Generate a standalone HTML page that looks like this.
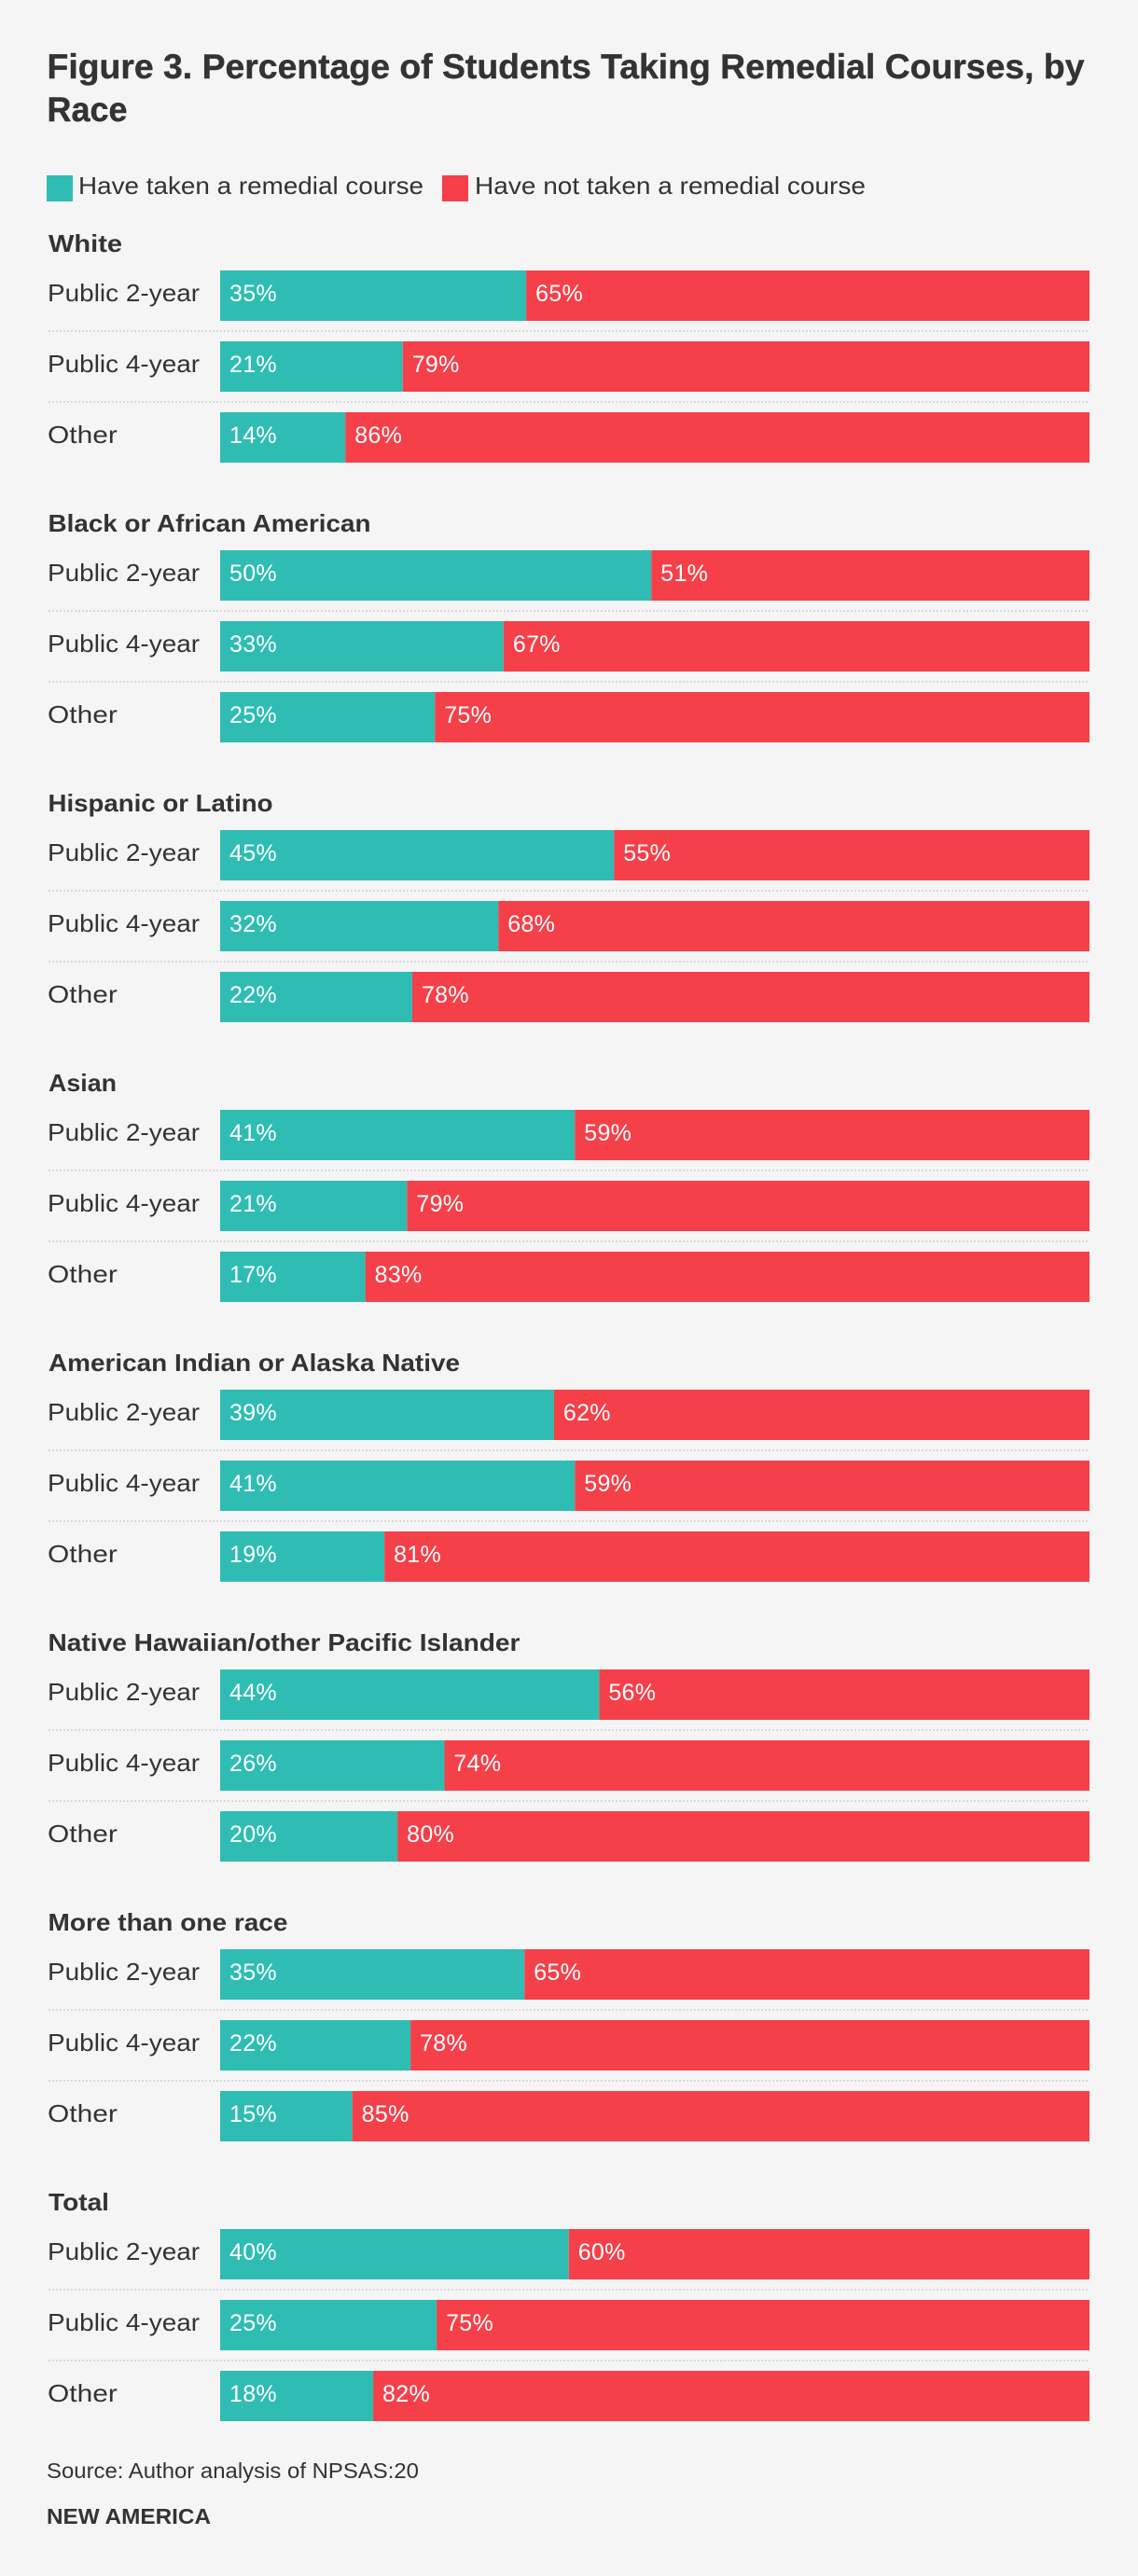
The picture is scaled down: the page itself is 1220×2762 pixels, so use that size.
<!DOCTYPE html>
<html lang="en">
<head>
<meta charset="utf-8">
<title>Figure 3. Percentage of Students Taking Remedial Courses, by Race</title>
<style>
html,body{margin:0;padding:0;background:#f5f5f5;}
body{width:1220px;height:2762px;overflow:hidden;}
svg{display:block;font-family:"Liberation Sans",sans-serif;}
.title{font-size:37px;font-weight:700;fill:#333;stroke:#333;stroke-width:.4px;}
.legend{font-size:26px;fill:#333;}
.group{font-size:26px;font-weight:700;fill:#333;}
.row{font-size:26px;fill:#333;}
.pct{font-size:25px;fill:#fff;letter-spacing:.3px;}
.src{font-size:23.5px;fill:#333;}
.org{font-size:23px;font-weight:700;fill:#333;}
</style>
</head>
<body>
<svg id="chart" xmlns="http://www.w3.org/2000/svg" width="1220" height="2762" viewBox="0 0 1220 2762">
  <rect x="0" y="0" width="1220" height="2762" fill="#f5f5f5"/>
  <text class="title" x="50.5" y="84" textLength="1112" lengthAdjust="spacingAndGlyphs">Figure 3. Percentage of Students Taking Remedial Courses, by</text>
  <text class="title" x="50.5" y="130" textLength="86" lengthAdjust="spacingAndGlyphs">Race</text>

  <rect x="50" y="188" width="28" height="28" fill="#2fbdb3"/>
  <text class="legend" x="84" y="208" textLength="370" lengthAdjust="spacingAndGlyphs">Have taken a remedial course</text>
  <rect x="474" y="188" width="28" height="28" fill="#f5404a"/>
  <text class="legend" x="509" y="208" textLength="419" lengthAdjust="spacingAndGlyphs">Have not taken a remedial course</text>

  <text class="group" x="52" y="270" textLength="79" lengthAdjust="spacingAndGlyphs">White</text>
  <text class="group" x="51.5" y="570" textLength="346" lengthAdjust="spacingAndGlyphs">Black or African American</text>
  <text class="group" x="51.5" y="870" textLength="241" lengthAdjust="spacingAndGlyphs">Hispanic or Latino</text>
  <text class="group" x="52" y="1170" textLength="73" lengthAdjust="spacingAndGlyphs">Asian</text>
  <text class="group" x="52" y="1470" textLength="441" lengthAdjust="spacingAndGlyphs">American Indian or Alaska Native</text>
  <text class="group" x="51.5" y="1770" textLength="506" lengthAdjust="spacingAndGlyphs">Native Hawaiian/other Pacific Islander</text>
  <text class="group" x="51.5" y="2070" textLength="257" lengthAdjust="spacingAndGlyphs">More than one race</text>
  <text class="group" x="52" y="2370" textLength="65" lengthAdjust="spacingAndGlyphs">Total</text>

  <g id="bars"></g>

  <text class="src" x="50" y="2657" textLength="399" lengthAdjust="spacingAndGlyphs">Source: Author analysis of NPSAS:20</text>
  <text class="org" x="50" y="2706" textLength="176" lengthAdjust="spacingAndGlyphs">NEW AMERICA</text>
</svg>
<script>
var rowLabels = ["Public 2-year", "Public 4-year", "Other"];
var groupKeys = ["white", "black", "hispanic", "asian", "american-indian", "native-hawaiian", "multiracial", "total"];
var takenShare = [
  [35.2, 21.0, 14.4],
  [49.6, 32.6, 24.7],
  [45.3, 32.0, 22.1],
  [40.8, 21.5, 16.7],
  [38.4, 40.8, 18.9],
  [43.6, 25.8, 20.4],
  [35.0, 21.9, 15.2],
  [40.1, 24.9, 17.6]
];
var takenLabels = [
  ["35%", "21%", "14%"],
  ["50%", "33%", "25%"],
  ["45%", "32%", "22%"],
  ["41%", "21%", "17%"],
  ["39%", "41%", "19%"],
  ["44%", "26%", "20%"],
  ["35%", "22%", "15%"],
  ["40%", "25%", "18%"]
];
var notTakenLabels = [
  ["65%", "79%", "86%"],
  ["51%", "67%", "75%"],
  ["55%", "68%", "78%"],
  ["59%", "79%", "83%"],
  ["62%", "59%", "81%"],
  ["56%", "74%", "80%"],
  ["65%", "78%", "85%"],
  ["60%", "75%", "82%"]
];

var NS = "http://www.w3.org/2000/svg";
var root = document.getElementById("bars");
var plotLeft = 236, plotWidth = 932, barHeight = 54;
var firstBarTop = 290, rowStep = 76, groupStep = 300;

function xScale(share) { return plotLeft + share / 100 * plotWidth; }
function yScale(g, r) { return firstBarTop + g * groupStep + r * rowStep; }
function labelStretch(text) { return text.length < 6 ? 1.15 : 1.075; }

function make(tag, attrs) {
  var el = document.createElementNS(NS, tag);
  for (var k in attrs) el.setAttribute(k, attrs[k]);
  return el;
}

takenShare.forEach(function (shares, g) {
  shares.forEach(function (share, r) {
    var y = yScale(g, r);
    var split = xScale(share);
    var key = groupKeys[g] + "-" + (r + 1);

    var label = make("text", { x: 51, y: y + 33, "class": "row" });
    
    
    label.textContent = rowLabels[r];
    root.appendChild(label);
    var natural = label.getComputedTextLength();
    label.setAttribute("textLength", (natural * labelStretch(rowLabels[r])).toFixed(1));
    label.setAttribute("lengthAdjust", "spacingAndGlyphs");

    var taken = make("rect", { x: plotLeft, y: y, width: split - plotLeft, height: barHeight, fill: "#2fbdb3" });
    
    
    root.appendChild(taken);

    var notTaken = make("rect", { x: split, y: y, width: plotLeft + plotWidth - split, height: barHeight, fill: "#f5404a" });
    
    
    root.appendChild(notTaken);

    var t1 = make("text", { x: plotLeft + 10, y: y + 33, "class": "pct" });
    
    
    t1.textContent = takenLabels[g][r];
    root.appendChild(t1);

    var t2 = make("text", { x: split + 10, y: y + 33, "class": "pct" });
    
    
    t2.textContent = notTakenLabels[g][r];
    root.appendChild(t2);

    if (r < shares.length - 1) {
      var sep = make("line", { x1: 52, x2: plotLeft + plotWidth, y1: y + 65, y2: y + 65, stroke: "#d8d8d8", "stroke-width": 2, "stroke-dasharray": "2 2" });
      
      
      root.appendChild(sep);
    }
  });
});
</script>
</body>
</html>
